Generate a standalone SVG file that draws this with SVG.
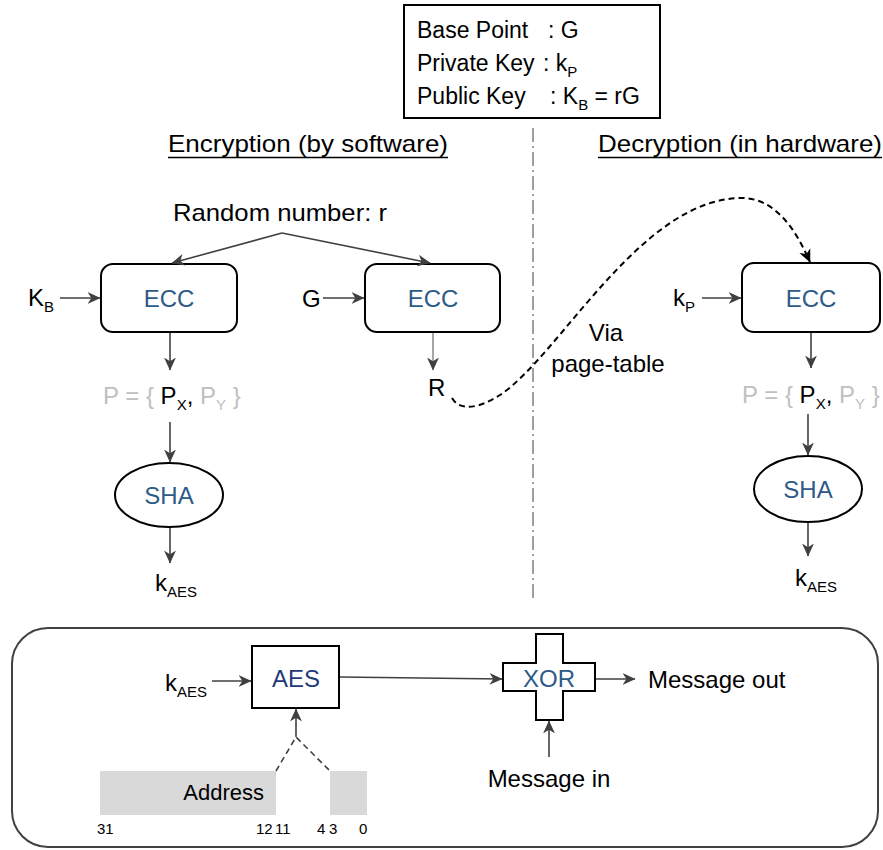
<svg xmlns="http://www.w3.org/2000/svg" width="883" height="850" viewBox="0 0 883 850">
<style>
text{font-family:"Liberation Sans",Arial,sans-serif;fill:#000}
.t{font-size:24px}
.lg23{font-size:23px}
.blue{fill:#2e5a88;font-size:24px}
.navy{fill:#1f3a7a;font-size:24px}
.grey{fill:#bfbfbf}
.box{fill:#fff;stroke:#000;stroke-width:2}
.ln{fill:none;stroke:#404040;stroke-width:1.6}
.lg{fill:none;stroke:#808080;stroke-width:1.4}
.num{font-size:15px}
</style>
<defs>
<marker id="ah" markerUnits="userSpaceOnUse" markerWidth="13" markerHeight="13" viewBox="0 0 12 12" refX="11.5" refY="6" orient="auto">
<path d="M0,0.5 L12,6 L0,11.5 L3.5,6 z" fill="#404040"/>
</marker>
<marker id="ahk" markerUnits="userSpaceOnUse" markerWidth="13" markerHeight="13" viewBox="0 0 12 12" refX="11.5" refY="6" orient="auto">
<path d="M0,0.5 L12,6 L0,11.5 L3.5,6 z" fill="#000"/>
</marker>
</defs>
<rect width="883" height="850" fill="#fff"/>

<g id="legend">
<rect x="404" y="5" width="256" height="113" fill="#fff" stroke="#000" stroke-width="2"/>
<text class="lg23" x="417" y="38">Base Point</text><text class="lg23" x="548" y="38">: G</text>
<text class="lg23" x="417" y="71">Private Key</text><text class="lg23" x="543" y="71">: k<tspan font-size="15" dy="6">P</tspan></text>
<text class="lg23" x="417" y="104">Public Key</text><text class="lg23" x="550" y="104">: K<tspan font-size="15" dy="6">B</tspan><tspan dy="-6"> = rG</tspan></text>
</g>

<g id="headers">
<text class="t" x="168" y="152" textLength="280" lengthAdjust="spacingAndGlyphs">Encryption (by software)</text>
<line x1="168" y1="157.5" x2="448" y2="157.5" stroke="#000" stroke-width="1.5"/>
<text class="t" x="598" y="152" textLength="284" lengthAdjust="spacingAndGlyphs">Decryption (in hardware)</text>
<line x1="598" y1="157.5" x2="882" y2="157.5" stroke="#000" stroke-width="1.5"/>
</g>

<g id="divider">
<line x1="533" y1="128" x2="533" y2="600" stroke="#808080" stroke-width="1.5" stroke-dasharray="14,4,2,4"/>
</g>

<g id="random">
<text class="t" x="280" y="221" text-anchor="middle" textLength="214" lengthAdjust="spacingAndGlyphs">Random number: r</text>
</g>

<g id="ecc1">
<rect class="box" x="101" y="264" width="136" height="68" rx="12"/>
<text class="blue" x="169" y="307" text-anchor="middle">ECC</text>
</g>
<g id="ecc2">
<rect class="box" x="365" y="264" width="135" height="68" rx="12"/>
<text class="blue" x="433" y="307" text-anchor="middle">ECC</text>
</g>
<g id="ecc3">
<rect class="box" x="742" y="263" width="138" height="69" rx="12"/>
<text class="blue" x="811" y="307" text-anchor="middle">ECC</text>
</g>

<g id="inputs">
<text class="t" x="28" y="306">K<tspan font-size="15" dy="6">B</tspan></text>
<text class="t" x="302" y="307">G</text>
<text class="t" x="673" y="306">k<tspan font-size="15" dy="6">P</tspan></text>
<text class="t" x="428" y="396">R</text>
</g>

<g id="p1">
<text class="t grey" x="103" y="404">P = { <tspan fill="#000">P</tspan><tspan fill="#000" font-size="15" dy="6">X</tspan><tspan fill="#000" dy="-6">,</tspan> P<tspan font-size="15" dy="6">Y</tspan><tspan dy="-6"> }</tspan></text>
</g>
<g id="p2">
<text class="t grey" x="742" y="403">P = { <tspan fill="#000">P</tspan><tspan fill="#000" font-size="15" dy="6">X</tspan><tspan fill="#000" dy="-6">,</tspan> P<tspan font-size="15" dy="6">Y</tspan><tspan dy="-6"> }</tspan></text>
</g>

<g id="sha1">
<ellipse cx="169" cy="495" rx="54" ry="32" fill="#fff" stroke="#000" stroke-width="2"/>
<text class="blue" x="169" y="504" text-anchor="middle">SHA</text>
</g>
<g id="sha2">
<ellipse cx="808" cy="489" rx="54" ry="33" fill="#fff" stroke="#000" stroke-width="2"/>
<text class="blue" x="808" y="498" text-anchor="middle">SHA</text>
</g>

<g id="kaes">
<text class="t" x="155" y="591">k<tspan font-size="15" dy="6">AES</tspan></text>
<text class="t" x="795" y="586">k<tspan font-size="15" dy="6">AES</tspan></text>
</g>

<g id="via">
<text class="t" x="606" y="341" text-anchor="middle">Via</text>
<text class="t" x="608" y="372" text-anchor="middle">page-table</text>
</g>

<g id="panel">
<rect x="12" y="628" width="866" height="219" rx="36" fill="none" stroke="#404040" stroke-width="2"/>
</g>

<g id="aes">
<rect class="box" x="252" y="646" width="87" height="62"/>
<text class="navy" x="296" y="687" text-anchor="middle">AES</text>
<text class="t" x="165" y="691">k<tspan font-size="15" dy="6">AES</tspan></text>
</g>

<g id="xor">
<path d="M536,634 H563 V663 H595 V691 H563 V720 H536 V691 H503 V663 H536 Z" fill="#fff" stroke="#000" stroke-width="2"/>
<text class="blue" x="549" y="687" text-anchor="middle">XOR</text>
</g>

<g id="messages">
<text class="t" x="648" y="688" font-size="25">Message out</text>
<text class="t" x="549" y="787" text-anchor="middle" font-size="25">Message in</text>
</g>

<g id="address">
<rect x="100" y="771" width="267" height="44" fill="#d9d9d9"/>
<rect x="276" y="771" width="54" height="44" fill="#fff"/>
<text x="264" y="800" text-anchor="end" font-size="22">Address</text>
<text class="num" x="97" y="834">31</text>
<text class="num" x="256" y="834">12</text>
<text class="num" x="275" y="834">11</text>
<text class="num" x="317" y="834">4</text>
<text class="num" x="329" y="834">3</text>
<text class="num" x="359" y="834">0</text>
</g>

<g id="connectors">
<polyline class="ln" points="282,233 172,263" marker-end="url(#ah)"/>
<polyline class="ln" points="282,233 430,263" marker-end="url(#ah)"/>
<line class="ln" x1="60" y1="298" x2="100" y2="298" marker-end="url(#ah)"/>
<line class="ln" x1="323" y1="298" x2="364" y2="298" marker-end="url(#ah)"/>
<line class="ln" x1="702" y1="298" x2="741" y2="298" marker-end="url(#ah)"/>
<line class="ln" x1="170" y1="333" x2="170" y2="370" marker-end="url(#ah)"/>
<line class="lg" x1="433" y1="333" x2="433" y2="370" marker-end="url(#ah)"/>
<line class="ln" x1="811" y1="333" x2="811" y2="368" marker-end="url(#ah)"/>
<line class="ln" x1="170" y1="422" x2="170" y2="462" marker-end="url(#ah)"/>
<line class="ln" x1="808" y1="414" x2="808" y2="455" marker-end="url(#ah)"/>
<line class="ln" x1="170" y1="528" x2="170" y2="563" marker-end="url(#ah)"/>
<line class="ln" x1="808" y1="523" x2="808" y2="556" marker-end="url(#ah)"/>
<path d="M452,398 C460,412 480,408 500,395 C560,355 640,200 740,198 C780,197 800,240 810,262" fill="none" stroke="#000" stroke-width="2" stroke-dasharray="6,4" marker-end="url(#ahk)"/>
<line class="ln" x1="212" y1="681" x2="251" y2="681" marker-end="url(#ah)"/>
<line class="ln" x1="340" y1="677" x2="502" y2="679" marker-end="url(#ah)"/>
<line class="ln" x1="596" y1="679" x2="635" y2="679" marker-end="url(#ah)"/>
<line class="ln" x1="549" y1="757" x2="549" y2="721" marker-end="url(#ah)"/>
<line class="ln" x1="296" y1="737" x2="296" y2="709" marker-end="url(#ah)"/>
<polyline points="276,771 296,737 330,771" fill="none" stroke="#404040" stroke-width="1.6" stroke-dasharray="6,4"/>
</g>
</svg>
